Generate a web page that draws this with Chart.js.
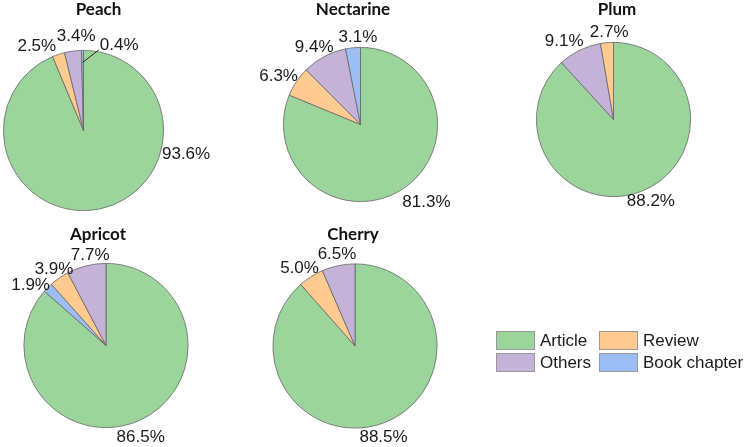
<!DOCTYPE html>
<html>
<head>
<meta charset="utf-8">
<script src="https://cdn.jsdelivr.net/npm/chart.js@4.4.1/dist/chart.umd.min.js"></script>
<style>
    body { margin: 0; background: #fff; }
    #wrap { position: relative; width: 749px; height: 447px; overflow: hidden; }
    #wrap canvas { position: absolute; left: 0; top: 0; }
    #legend { position: absolute; left: 496px; top: 331px; font: 17px "Liberation Sans", Arial, sans-serif; color: #1a1a1a; }
    .item { position: absolute; height: 19px; line-height: 19px; white-space: nowrap; }
    .box { display: inline-block; width: 37px; height: 17px; border: 1px solid #999; vertical-align: top; margin-right: 5px; }
</style>
</head>
<body>
<div id="wrap">
    <div id="legend"></div>
</div>
<script>
// categories and colours
const categories = ['Article', 'Review', 'Others', 'Book chapter'];
const catColors = ['#9BD59B', '#FFCA8F', '#C4B2D9', '#9DBEF5'];

// each pie, slices in drawing order (clockwise from 12 o'clock)
const peachLabels = ['Article', 'Review', 'Others', 'Book chapter'];
const peachValues = [93.6, 2.5, 3.4, 0.4];

const nectarineLabels = ['Article', 'Review', 'Others', 'Book chapter'];
const nectarineValues = [81.3, 6.3, 9.4, 3.1];

const plumLabels = ['Article', 'Others', 'Review'];
const plumValues = [88.2, 9.1, 2.7];

const apricotLabels = ['Article', 'Book chapter', 'Review', 'Others'];
const apricotValues = [86.5, 1.9, 3.9, 7.7];

const cherryLabels = ['Article', 'Review', 'Others'];
const cherryValues = [88.5, 5.0, 6.5];

const W = 749, H = 447;

// where each pie sits on the page, plus label nudges
const pies = [
    { title: 'Peach', labels: peachLabels, values: peachValues, cx: 83.5, cy: 130.5, r: 80.5, tx: 98.5, ty: 10,
      angles: { 0: 105 }, shifts: { 1: [-15, 2], 2: [6, -4], 3: [37, 5] }, leader: 3 },
    { title: 'Nectarine', labels: nectarineLabels, values: nectarineValues, cx: 360.5, cy: 124.5, r: 77.5, tx: 353, ty: 10,
      angles: { 0: 144 }, pads: { 0: 9 }, shifts: { 3: [7, 0] } },
    { title: 'Plum', labels: plumLabels, values: plumValues, cx: 613.5, cy: 119.5, r: 77.5, tx: 617, ty: 10,
      shifts: { 1: [-6, 0], 2: [4, 0] } },
    { title: 'Apricot', labels: apricotLabels, values: apricotValues, cx: 106, cy: 345.5, r: 82.5, tx: 98, ty: 235,
      angles: { 0: 162 }, pads: { 0: 4 }, shifts: { 1: [-2, 5], 2: [7, 0], 3: [9, 0] } },
    { title: 'Cherry', labels: cherryLabels, values: cherryValues, cx: 355, cy: 346, r: 82.5, tx: 353, ty: 235,
      angles: { 0: 165 }, pads: { 0: 2 }, shifts: { 2: [3, -1] } }
];

const sliceLabels = {
    id: 'sliceLabels',
    afterDatasetsDraw(chart, args, opts) {
        const ctx = chart.ctx;
        const meta = chart.getDatasetMeta(0);
        const values = chart.data.datasets[0].data;
        ctx.save();
        ctx.font = '17px "Liberation Sans", Arial, sans-serif';
        ctx.fillStyle = '#1a1a1a';
        ctx.textAlign = 'center';
        ctx.textBaseline = 'middle';
        meta.data.forEach((arc, i) => {
            const p = arc.getProps(['x', 'y', 'startAngle', 'endAngle', 'outerRadius'], true);
            let mid = (p.startAngle + p.endAngle) / 2;
            if (opts.angles && opts.angles[i] != null) mid = (opts.angles[i] - 90) * Math.PI / 180;
            const R = p.outerRadius + 2 + (opts.pads && opts.pads[i] ? opts.pads[i] : 0);
            const px = p.x + R * Math.cos(mid), py = p.y + R * Math.sin(mid);
            const text = values[i].toFixed(1) + '%';
            const w = ctx.measureText(text).width;
            let tx = px + Math.cos(mid) * w / 2;
            let ty = py + Math.sin(mid) * 8.5;
            if (opts.shifts && opts.shifts[i]) {
                tx += opts.shifts[i][0];
                ty += opts.shifts[i][1];
            }
            if (opts.leader === i) {
                const a = (p.startAngle + p.endAngle) / 2;
                ctx.strokeStyle = '#222';
                ctx.lineWidth = 1;
                ctx.beginPath();
                ctx.moveTo(p.x + (p.outerRadius - 12) * Math.cos(a), p.y + (p.outerRadius - 12) * Math.sin(a));
                ctx.lineTo(tx - w / 2 - 1, ty + 5);
                ctx.stroke();
            }
            ctx.fillText(text, tx, ty);
        });
        ctx.font = 'bold 17px Lato, "Liberation Sans", sans-serif';
        ctx.fillStyle = '#111';
        ctx.fillText(opts.title, opts.tx, opts.ty);
        ctx.restore();
    }
};

const wrap = document.getElementById('wrap');

pies.forEach(pie => {
    const canvas = document.createElement('canvas');
    canvas.width = W;
    canvas.height = H;
    wrap.insertBefore(canvas, document.getElementById('legend'));

    new Chart(canvas.getContext('2d'), {
        type: 'pie',
        data: {
            labels: pie.labels,
            datasets: [{
                data: pie.values,
                backgroundColor: pie.labels.map(l => catColors[categories.indexOf(l)]),
                borderColor: '#666',
                borderWidth: 0.8
            }]
        },
        options: {
            responsive: false,
            animation: false,
            layout: {
                padding: {
                    left: pie.cx - pie.r,
                    top: pie.cy - pie.r,
                    right: W - pie.cx - pie.r,
                    bottom: H - pie.cy - pie.r
                }
            },
            plugins: {
                legend: { display: false },
                tooltip: { enabled: false },
                sliceLabels: {
                    title: pie.title, tx: pie.tx, ty: pie.ty,
                    angles: pie.angles, pads: pie.pads, shifts: pie.shifts, leader: pie.leader
                }
            }
        },
        plugins: [sliceLabels]
    });
});

// legend, 2 x 2
const legend = document.getElementById('legend');
const legendOrder = ['Article', 'Review', 'Others', 'Book chapter'];
legendOrder.forEach((name, i) => {
    const item = document.createElement('div');
    item.className = 'item';
    item.style.left = (i % 2 === 0 ? 0 : 103) + 'px';
    item.style.top = (Math.floor(i / 2) * 22) + 'px';
    item.innerHTML = '<span class="box" style="background:' + catColors[categories.indexOf(name)] + '"></span>' + name;
    legend.appendChild(item);
});
</script>
</body>
</html>
